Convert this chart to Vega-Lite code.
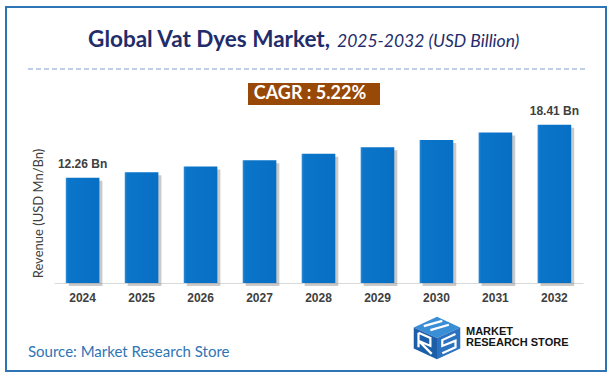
{
  "$schema": "https://vega.github.io/schema/vega-lite/v6.json",
  "width": 529,
  "height": 183,
  "autosize": {"type": "none"},
  "padding": {"left": 54, "top": 100, "right": 33, "bottom": 97},
  "background": "white",
  "config": {"view": {"stroke": null}},
  "data": {
    "values": [
      {"year": "2024", "value": 12.26, "label": "12.26 Bn"},
      {"year": "2025", "value": 12.9, "label": ""},
      {"year": "2026", "value": 13.57, "label": ""},
      {"year": "2027", "value": 14.28, "label": ""},
      {"year": "2028", "value": 15.03, "label": ""},
      {"year": "2029", "value": 15.81, "label": ""},
      {"year": "2030", "value": 16.64, "label": ""},
      {"year": "2031", "value": 17.51, "label": ""},
      {"year": "2032", "value": 18.41, "label": "18.41 Bn"}
    ]
  },
  "layer": [
    {
      "data": {"values": [{"k": 1}]},
      "mark": {"type": "rect", "fillOpacity": 0, "stroke": "#2e75b6", "strokeWidth": 2},
      "encoding": {
        "x": {"value": -48}, "x2": {"value": 552},
        "y": {"value": -93}, "y2": {"value": 271}
      }
    },
    {
      "data": {"values": [{"k": 1}]},
      "mark": {"type": "rule", "stroke": "#7f9fd4", "strokeWidth": 1.2, "strokeDash": [5, 3]},
      "encoding": {
        "x": {"value": -26}, "x2": {"value": 534},
        "y": {"value": -31}
      }
    },
    {
      "data": {"values": [{"t": "Global Vat Dyes Market,"}]},
      "mark": {"type": "text", "align": "right", "baseline": "alphabetic", "font": "Lato", "fontWeight": "bold", "fontSize": 22.5, "color": "#1f2d6b"},
      "encoding": {"text": {"field": "t"}, "x": {"value": 276}, "y": {"value": -53}}
    },
    {
      "data": {"values": [{"t": "2025-2032 (USD Billion)"}]},
      "mark": {"type": "text", "align": "left", "baseline": "alphabetic", "font": "Lato", "fontStyle": "italic", "fontSize": 17.5, "color": "#1f2d6b"},
      "encoding": {"text": {"field": "t"}, "x": {"value": 283}, "y": {"value": -53}}
    },
    {
      "data": {"values": [{"k": 1}]},
      "mark": {"type": "rect", "fill": "#984807"},
      "encoding": {
        "x": {"value": 194}, "x2": {"value": 326},
        "y": {"value": -17}, "y2": {"value": 5}
      }
    },
    {
      "data": {"values": [{"t": "CAGR : 5.22%"}]},
      "mark": {"type": "text", "align": "center", "baseline": "middle", "font": "Lato", "fontWeight": "bold", "fontSize": 18, "color": "white"},
      "encoding": {"text": {"field": "t"}, "x": {"value": 256}, "y": {"value": -6}}
    },
    {
      "encoding": {
        "x": {
          "field": "year", "type": "nominal", "sort": null,
          "scale": {"paddingInner": 0.43, "paddingOuter": 0.2},
          "axis": {
            "title": null, "labelAngle": 0, "labelFont": "Liberation Sans", "labelFontWeight": "bold",
            "labelFontSize": 12, "labelColor": "#404040", "ticks": false, "domainColor": "#d9d9d9",
            "domainWidth": 1, "labelPadding": 9, "grid": false
          }
        },
        "y": {
          "field": "value", "type": "quantitative",
          "scale": {"domain": [0, 21.3], "nice": false, "zero": true},
          "axis": {
            "title": "Revenue (USD Mn/Bn)", "labels": false, "ticks": false, "domain": false, "grid": false,
            "titleFont": "Lato", "titleFontSize": 13, "titleFontWeight": "normal", "titleColor": "#404040",
            "titleX": -16, "titleY": 113, "titleAngle": -90, "titleBaseline": "middle", "titleAlign": "center"
          }
        }
      },
      "layer": [
        {
          "mark": {"type": "bar", "color": "#7a7a7a", "opacity": 0.4, "xOffset": 3, "yOffset": 3, "y2Offset": 0}
        },
        {
          "mark": {
            "type": "bar",
            "color": {
              "gradient": "linear", "x1": 0, "x2": 1, "y1": 0, "y2": 0,
              "stops": [
                {"offset": 0, "color": "#2f8ad6"},
                {"offset": 0.07, "color": "#0a75c9"},
                {"offset": 1, "color": "#0870c4"}
              ]
            }
          }
        },
        {
          "mark": {"type": "text", "baseline": "bottom", "dy": -7, "font": "Liberation Sans", "fontWeight": "bold", "fontSize": 12, "color": "#404040"},
          "encoding": {"text": {"field": "label"}}
        }
      ]
    },
    {
      "data": {"values": [{"t": "Source: Market Research Store"}]},
      "mark": {"type": "text", "align": "left", "baseline": "middle", "font": "Lato", "fontSize": 15, "color": "#2e75b6"},
      "encoding": {"text": {"field": "t"}, "x": {"value": -26}, "y": {"value": 252}}
    },
    {
      "data": {"values": [{"face": "top"}]},
      "mark": {"type": "point", "filled": true, "opacity": 1, "strokeWidth": 0, "size": 2795, "color": "#3a8ed6",
        "shape": "M 0 -0.8 L 0.88 -0.4 L 0 0 L -0.88 -0.4 Z"},
      "encoding": {"x": {"value": 383}, "y": {"value": 238}}
    },
    {
      "data": {"values": [{"face": "left"}]},
      "mark": {"type": "point", "filled": true, "opacity": 1, "strokeWidth": 0, "size": 2795, "color": "#1c5ea8",
        "shape": "M -0.88 -0.4 L 0 0 L 0 0.8 L -0.88 0.4 Z"},
      "encoding": {"x": {"value": 383}, "y": {"value": 238}}
    },
    {
      "data": {"values": [{"face": "right"}]},
      "mark": {"type": "point", "filled": true, "opacity": 1, "strokeWidth": 0, "size": 2795, "color": "#2b73be",
        "shape": "M 0 0 L 0.88 -0.4 L 0.88 0.4 L 0 0.8 Z"},
      "encoding": {"x": {"value": 383}, "y": {"value": 238}}
    },
    {
      "data": {"values": [{"face": "stripes"}]},
      "mark": {"type": "point", "filled": false, "opacity": 1, "strokeWidth": 2.2, "size": 2795, "color": "white",
        "shape": "M -0.5 -0.45 L 0.2 -0.65 M -0.25 -0.3 L 0.45 -0.5 M -0.7 -0.2 L -0.7 0.35 M -0.7 -0.2 L -0.25 0.0 L -0.25 0.3 L -0.7 0.1 L -0.2 0.6 M 0.7 -0.15 L 0.2 0.08 L 0.2 0.3 L 0.7 0.1 L 0.7 0.35 L 0.2 0.58"},
      "encoding": {"x": {"value": 383}, "y": {"value": 238}}
    },
    {
      "data": {"values": [{"t": "MARKET"}]},
      "mark": {"type": "text", "align": "left", "baseline": "middle", "font": "Liberation Sans", "fontWeight": "bold", "fontSize": 11, "color": "#151515"},
      "encoding": {"text": {"field": "t"}, "x": {"value": 412}, "y": {"value": 232}}
    },
    {
      "data": {"values": [{"t": "RESEARCH STORE"}]},
      "mark": {"type": "text", "align": "left", "baseline": "middle", "font": "Liberation Sans", "fontWeight": "bold", "fontSize": 11, "color": "#151515"},
      "encoding": {"text": {"field": "t"}, "x": {"value": 412}, "y": {"value": 243}}
    }
  ]
}
